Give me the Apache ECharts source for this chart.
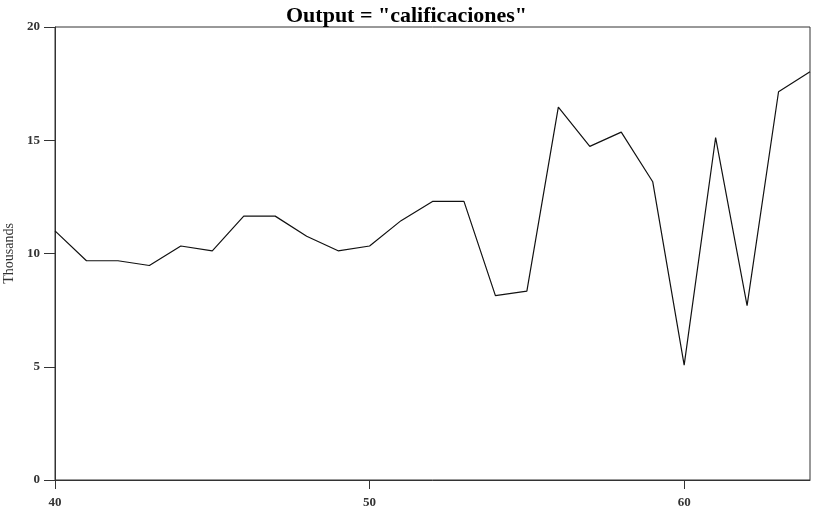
<!DOCTYPE html>
<html>
<head>
<meta charset="utf-8">
<script src="https://cdn.jsdelivr.net/npm/echarts@6/dist/echarts.min.js"></script>
<style>html,body{margin:0;padding:0;background:#fff}#c{width:813px;height:511px}</style>
</head>
<body>
<div id="c"></div>
<script>
var titleText = 'Output = "calificaciones"';
var yAxisName = 'Thousands';
var xValues = [40,41,42,43,44,45,46,47,48,49,50,51,52,53,54,55,56,57,58,59,60,61,62,63,64];
var yValues = [11.0,9.68,9.68,9.47,10.33,10.12,11.65,11.65,10.76,10.12,10.33,11.45,12.3,12.3,8.14,8.34,16.46,14.73,15.36,13.17,5.07,15.12,7.70,17.14,18.02];
var xTicks = [40,50,60];
var yTicks = [0,5,10,15,20];

var data = xValues.map(function(x,i){return [x,yValues[i]];});
var chart = echarts.init(document.getElementById('c'));
var axisColor = '#333';
chart.setOption({
  animation:false,
  backgroundColor:'#fff',
  title:{text:titleText,left:'center',top:0,
    textStyle:{fontFamily:'Liberation Serif',fontWeight:'bold',fontSize:22,color:'#000'}},
  grid:{left:55,right:3,top:27,bottom:31,containLabel:false,outerBoundsMode:'none',show:true,borderColor:axisColor,borderWidth:1,backgroundColor:'transparent'},
  xAxis:{type:'value',min:40,max:64,interval:10,
    axisLine:{show:true,onZero:false,lineStyle:{color:axisColor}},
    axisTick:{show:true,length:9,customValues:xTicks,lineStyle:{color:axisColor,width:1}},
    axisLabel:{customValues:xTicks,margin:16,fontFamily:'Liberation Serif',fontSize:13,fontWeight:'bold',color:'#333'},
    splitLine:{show:false}},
  yAxis:{type:'value',min:0,max:20,interval:5,
    name:yAxisName,nameLocation:'middle',nameGap:34,
    nameTextStyle:{fontFamily:'Liberation Serif',fontSize:14,color:'#333'},
    axisLine:{show:true,lineStyle:{color:axisColor}},
    axisTick:{show:true,length:11,customValues:yTicks,lineStyle:{color:axisColor,width:1}},
    axisLabel:{margin:15,fontFamily:'Liberation Serif',fontSize:13,fontWeight:'bold',color:'#333'},
    splitLine:{show:false}},
  series:[{type:'line',data:data,symbol:'none',lineStyle:{color:'#111',width:1.2}}]
});
</script>
</body>
</html>
